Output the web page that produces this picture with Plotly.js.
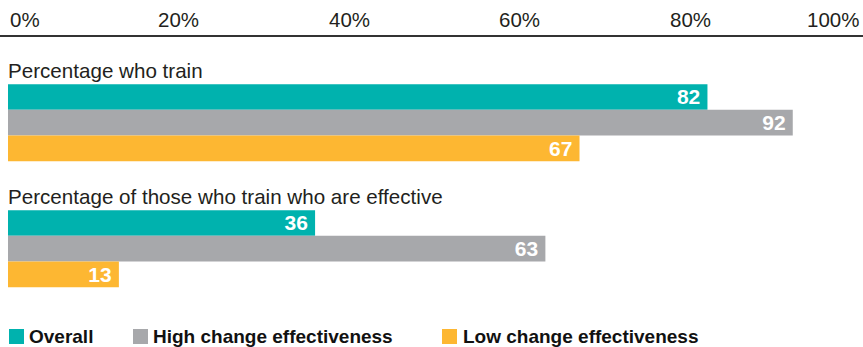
<!DOCTYPE html>
<html>
<head>
<meta charset="utf-8">
<script src="https://cdn.plot.ly/plotly-3.0.1.min.js"></script>
<style>html,body{margin:0;padding:0;background:#fff;}#chart{width:863px;height:347px;}</style>
</head>
<body>
<div id="chart"></div>
<script>
// ---- data ----
const categories = ['Percentage who train', 'Percentage of those who train who are effective'];
const seriesNames = ['Overall', 'High change effectiveness', 'Low change effectiveness'];
const overall = [82, 36];
const high = [92, 63];
const low = [67, 13];
const tickVals = [0, 20, 40, 60, 80, 100];
const tickLabels = ['0%', '20%', '40%', '60%', '80%', '100%'];

// ---- styling / layout constants ----
const colors = ['#00B2AE', '#A7A8AB', '#FDB732'];
const W = 863, H = 347;
const M = {l: 8, r: 2, t: 36, b: 47};
const PW = W - M.l - M.r, PH = H - M.t - M.b;
const groupSpacing = 4.909;
const yRange = [7.909, -2.376];
const FONT = 'Liberation Sans, Arial, sans-serif';
const TXT = '#231F20';

const seriesValues = [overall, high, low];
const traces = seriesValues.map((vals, s) => ({
  type: 'bar',
  orientation: 'h',
  name: seriesNames[s],
  x: vals,
  y: vals.map((v, g) => g * groupSpacing + s),
  width: 1,
  marker: {color: colors[s], line: {width: 0}},
  text: vals.map(v => String(v) + '\u2009'),
  textposition: 'inside',
  insidetextanchor: 'end',
  textangle: 0,
  constraintext: 'none',
  textfont: {family: FONT, size: 21, color: '#ffffff', weight: 'bold'},
  hoverinfo: 'skip',
  showlegend: false
}));

const px2paperX = p => (p - M.l) / PW;
const px2paperY = p => (H - M.b - p) / PH;

const annotations = [];
// tick labels (ends aligned inward)
tickVals.forEach((v, i) => {
  annotations.push({
    xref: 'x', yref: 'paper', x: v, y: 1, yshift: 17,
    text: tickLabels[i], showarrow: false,
    xanchor: i === 0 ? 'left' : (i === tickVals.length - 1 ? 'right' : 'center'),
    yanchor: 'middle',
    font: {family: FONT, size: 20.5, color: TXT}
  });
});
// group headings
categories.forEach((c, g) => {
  annotations.push({
    xref: 'paper', yref: 'y', x: 0, y: g * groupSpacing - 1.05,
    text: c, showarrow: false, xanchor: 'left', yanchor: 'middle', xshift: -2,
    font: {family: FONT, size: 20.6, color: TXT}
  });
});
// legend
const legendSq = [9, 133, 442];
const legendTx = [27, 151, 461];
const shapes = [{
  type: 'line', xref: 'paper', yref: 'paper',
  x0: px2paperX(0), x1: px2paperX(W), y0: 1, y1: 1,
  line: {color: '#333333', width: 2}
}];
seriesNames.forEach((n, s) => {
  shapes.push({
    type: 'rect', xref: 'paper', yref: 'paper',
    x0: px2paperX(legendSq[s]), x1: px2paperX(legendSq[s] + 15),
    y0: px2paperY(344), y1: px2paperY(329),
    fillcolor: colors[s], line: {width: 0}
  });
  annotations.push({
    xref: 'paper', yref: 'paper', x: px2paperX(legendTx[s]), y: px2paperY(336.5),
    text: '<b>' + n + '</b>', showarrow: false, xanchor: 'left', yanchor: 'middle',
    font: {family: FONT, size: 19, color: '#111111'}
  });
});

const layout = {
  width: W, height: H,
  margin: M,
  paper_bgcolor: '#ffffff', plot_bgcolor: '#ffffff',
  barmode: 'overlay',
  showlegend: false,
  xaxis: {range: [0, 100], side: 'top', tickvals: tickVals, showticklabels: false,
          showgrid: false, zeroline: false, showline: false, ticks: '', fixedrange: true},
  yaxis: {range: yRange, autorange: false, visible: false, fixedrange: true},
  annotations: annotations,
  shapes: shapes
};

Plotly.newPlot('chart', traces, layout, {displayModeBar: false, staticPlot: true});
</script>
</body>
</html>
